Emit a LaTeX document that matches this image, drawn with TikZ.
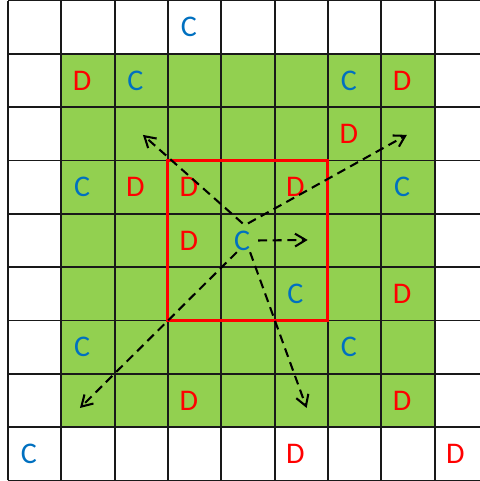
\documentclass[tikz,border=0pt]{standalone}
\usepackage{fontspec}
\setmainfont{Carlito}
\usetikzlibrary{arrows.meta}
\definecolor{cBLU}{HTML}{0070C0}
\definecolor{cRED}{HTML}{FF0000}
\definecolor{cGRN}{HTML}{92D050}

\begin{document}
\begin{tikzpicture}[font=\fontsize{16}{19}\selectfont, >={Straight Barb[length=2mm,width=2.4mm]},
  letC/.style={text=cBLU, inner sep=0pt},
  letD/.style={text=cRED, inner sep=0pt},
  flow/.style={->, line width=1.1pt, dash pattern=on 4.8pt off 3pt}]
\useasboundingbox (-0.15,-0.01) rectangle (8.85,9.01);
\fill[cGRN] (1,1) rectangle (8,8);
\draw[line width=1pt, black!90] (0,0) grid (9,9);
\draw[cRED, line width=1.6pt] (3,3) rectangle (6,6);
% row 0
\node[letC] (n30) at (3.39,8.5) {C};
% row 1
\node[letD] (n11) at (1.39,7.5) {D};
\node[letC] (n21) at (2.39,7.5) {C};
\node[letC] (n61) at (6.39,7.5) {C};
\node[letD] (n71) at (7.39,7.5) {D};
% row 2
\node[letD] (n62) at (6.39,6.5) {D};
% row 3
\node[letC] (n13) at (1.39,5.5) {C};
\node[letD] (n23) at (2.39,5.5) {D};
\node[letD] (n33) at (3.39,5.5) {D};
\node[letD] (n53) at (5.39,5.5) {D};
\node[letC] (n73) at (7.39,5.5) {C};
% row 4
\node[letD] (n34) at (3.39,4.5) {D};
\node[letC] (n44) at (4.39,4.5) {C};
% row 5
\node[letC] (n55) at (5.39,3.5) {C};
\node[letD] (n75) at (7.39,3.5) {D};
% row 6
\node[letC] (n16) at (1.39,2.5) {C};
\node[letC] (n66) at (6.39,2.5) {C};
% row 7
\node[letD] (n37) at (3.39,1.5) {D};
\node[letD] (n77) at (7.39,1.5) {D};
% row 8
\node[letC] (n08) at (0.39,0.5) {C};
\node[letD] (n58) at (5.39,0.5) {D};
\node[letD] (n88) at (8.39,0.5) {D};
% arrows out of the centre C
\coordinate (tipNW) at (2.53,6.48);
\coordinate (tipNE) at (7.48,6.48);
\coordinate (tipE) at (5.62,4.51);
\coordinate (tipSW) at (1.35,1.36);
\coordinate (tipS) at (5.60,1.36);
\draw[flow] ([shift={(0.01,0.32)}]n44.center) -- (tipNW);
\draw[flow] ([shift={(0.11,0.32)}]n44.center) -- (tipNE);
\draw[flow] ([shift={(0.30,0)}]n44.center) -- (tipE);
\draw[flow] ([shift={(-0.10,-0.22)}]n44.center) -- (tipSW);
\draw[flow] ([shift={(0.15,-0.22)}]n44.center) -- (tipS);
\end{tikzpicture}
\end{document}
